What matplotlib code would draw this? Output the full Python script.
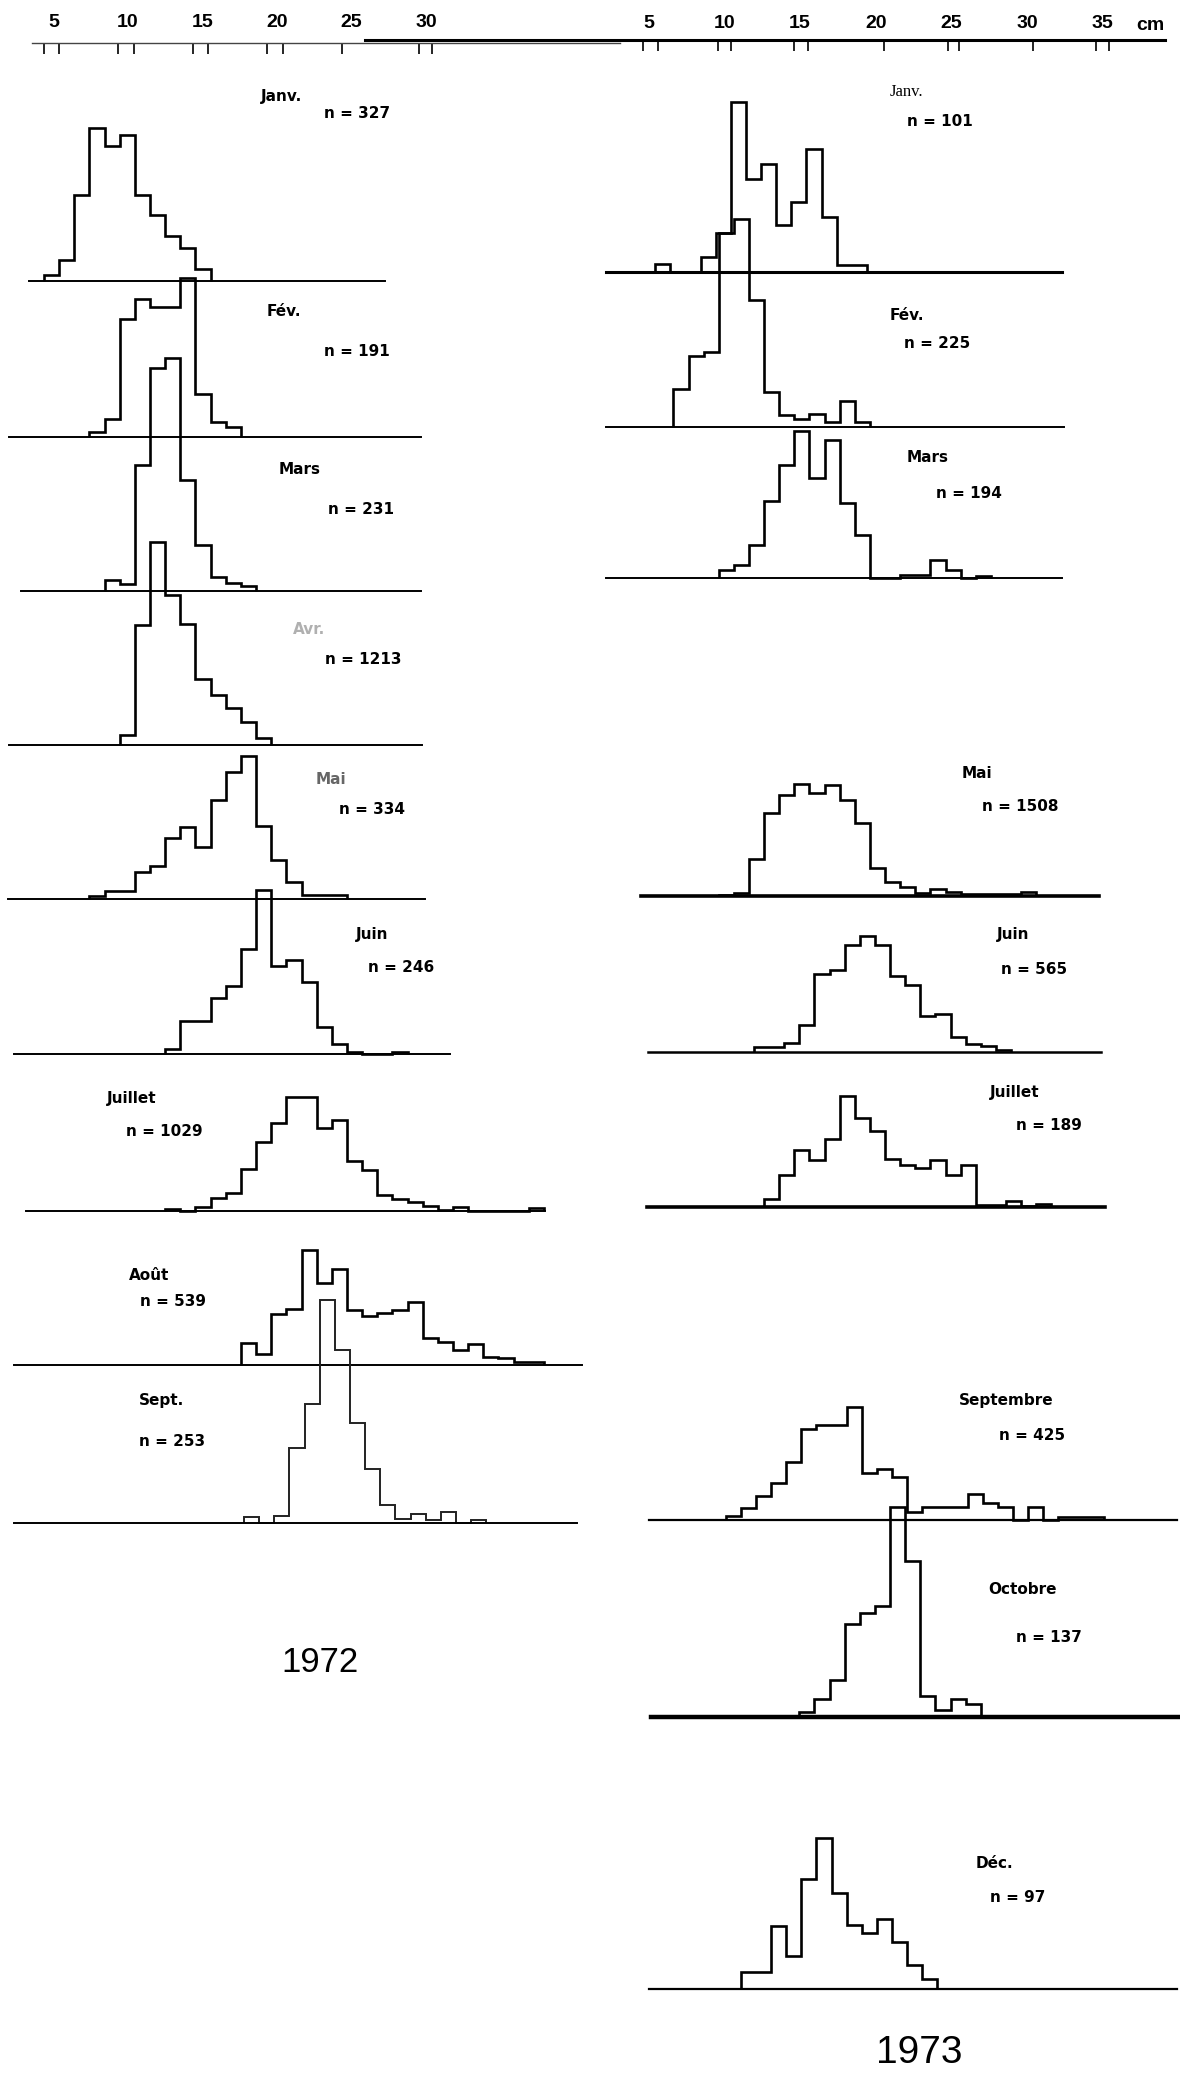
import matplotlib.pyplot as plt
import numpy as np

W, H = 1180, 2073

# ---- length-frequency data (1 cm classes), value = relative frequency
# 1972
jan72_start, jan72 = 5, [6, 21, 86, 153, 135, 146, 86, 66, 45, 33, 12]
feb72_start, feb72 = 8, [5, 18, 118, 138, 130, 130, 159, 43, 15, 10]
mar72_start, mar72 = 9, [11, 7, 126, 223, 233, 111, 46, 14, 8, 5]
apr72_start, apr72 = 10, [10, 120, 203, 150, 121, 66, 50, 37, 23, 7]
may72_start, may72 = 8, [3, 8, 8, 27, 33, 61, 72, 52, 99, 127, 143, 73, 39, 17, 4, 4, 4]
jun72_start, jun72 = 13, [5, 33, 33, 56, 68, 105, 164, 88, 94, 72, 27, 10, 2, 0, 0, 2]
jul72_start, jul72 = 13, [2, 0, 4, 13, 18, 42, 69, 88, 114, 114, 83, 91, 50, 41, 16,
                          12, 9, 5, 1, 4, 0, 0, 0, 0, 3]
aug72_start, aug72 = 18, [22, 11, 51, 56, 115, 82, 96, 55, 49, 52, 55, 63, 27, 23,
                          15, 21, 8, 7, 3, 3]
sep72_start, sep72 = 18, [6, 0, 7, 75, 119, 223, 173, 100, 54, 18, 4, 9, 3, 11, 0, 3]

# 1973
jan73_start, jan73 = 6, [8, 0, 0, 15, 39, 170, 93, 108, 47, 70, 123, 55, 7, 7]
feb73_start, feb73 = 7, [38, 71, 75, 194, 208, 127, 35, 12, 8, 13, 5, 26, 5]
mar73_start, mar73 = 10, [8, 13, 33, 77, 113, 147, 100, 138, 75, 43, 0, 0, 3, 3, 18, 8, 0, 2]
may73_start, may73 = 10, [1, 3, 37, 83, 101, 112, 103, 111, 96, 73, 28, 14, 9, 3, 7,
                          4, 2, 2, 2, 2, 4]
jun73_start, jun73 = 12, [5, 5, 9, 27, 78, 82, 107, 116, 107, 76, 67, 36, 38, 15, 8, 6, 2]
jul73_start, jul73 = 13, [8, 32, 57, 47, 68, 111, 89, 76, 48, 42, 39, 47, 32, 42, 2,
                          2, 6, 1, 3]
sep73_start, sep73 = 10, [4, 12, 24, 37, 58, 91, 95, 95, 113, 47, 51, 43, 8, 13, 13,
                          13, 26, 17, 13, 0, 13, 0, 3, 3, 3]
oct73_start, oct73 = 15, [5, 18, 37, 93, 104, 111, 210, 156, 21, 7, 18, 13]
dec73_start, dec73 = 11, [17, 17, 63, 33, 110, 151, 96, 64, 56, 70, 47, 24, 10]

months72 = ["Janv.", "Fév.", "Mars", "Avr.", "Mai", "Juin", "Juillet", "Août", "Sept."]
n72 = [327, 191, 231, 1213, 334, 246, 1029, 539, 253]
months73 = ["Janv.", "Fév.", "Mars", "Mai", "Juin", "Juillet", "Septembre", "Octobre", "Déc."]
n73 = [101, 225, 194, 1508, 565, 189, 425, 137, 97]

scale_ticks = [5, 10, 15, 20, 25, 30, 35]

# pixel mapping of the cm scale: x_px = off + k * cm
COLS = {"L": (-24.2, 15.15), "R": (575.1, 15.12)}
SCALE_L = (-21.0, 14.9)
SCALE_R = (573.3, 15.12)
AXH = 260

fig = plt.figure(figsize=(W / 100, H / 100), dpi=100)
fig.patch.set_facecolor("white")


def fx(x):
    return x / W


def fy(y):
    return 1 - y / H


def hist(start, freqs, col, x0, x1, base, blw=1.4, lw=1.9, color="black", dx=0):
    # dx: small horizontal shift of a pasted-up panel (pixels)
    off, k = COLS[col]
    off += dx
    ax = fig.add_axes([fx(x0), fy(base), (x1 - x0) / W, AXH / H])
    ax.set_xlim((x0 - off) / k, (x1 - off) / k)
    ax.set_ylim(0, AXH)
    edges = np.arange(len(freqs) + 1) + start - 0.5
    ax.stairs(freqs, edges, color=color, lw=lw, clip_on=False)
    ax.patch.set_alpha(0)
    for s in ["top", "left", "right"]:
        ax.spines[s].set_visible(False)
    ax.spines["bottom"].set_linewidth(blw)
    ax.set_xticks([])
    ax.set_yticks([])
    return ax


# left column, 1972
hist(jan72_start, jan72, "L", 29, 385, 281)
hist(feb72_start, feb72, "L", 9, 421, 437)
hist(mar72_start, mar72, "L", 21, 421, 591)
hist(apr72_start, apr72, "L", 9, 422, 745)
hist(may72_start, may72, "L", 8, 425, 899)
hist(jun72_start, jun72, "L", 14, 450, 1054)
hist(jul72_start, jul72, "L", 26, 545, 1211)
hist(aug72_start, aug72, "L", 14, 582, 1365)
hist(sep72_start, sep72, "L", 14, 577, 1523, lw=1.4, color="#222222", dx=3)

# right column, 1973
hist(jan73_start, jan73, "R", 606, 1062, 272, blw=2.2, dx=-3)
hist(feb73_start, feb73, "R", 606, 1064, 427)
hist(mar73_start, mar73, "R", 606, 1062, 578)
hist(may73_start, may73, "R", 641, 1099, 896, blw=2.6)
hist(jun73_start, jun73, "R", 648, 1101, 1052, blw=1.8, dx=5)
hist(jul73_start, jul73, "R", 647, 1105, 1207, blw=2.6)
hist(sep73_start, sep73, "R", 649, 1177, 1520, blw=1.6, dx=7)
hist(oct73_start, oct73, "R", 651, 1179, 1717, blw=3.2, dx=5)
hist(dec73_start, dec73, "R", 649, 1177, 1989, blw=1.6, dx=7)

# ---- top scales
tickfont = dict(family="Liberation Sans", weight="bold", size=14)

axl = fig.add_axes([fx(32), fy(43), (620 - 32) / W, 1 / H])
off, k = SCALE_L
axl.set_xlim((32 - off) / k, (620 - off) / k)
axl.set_xticks(scale_ticks[:6])
axl.set_xticklabels([str(v) for v in scale_ticks[:6]], fontdict=tickfont)
axl.set_xticks([4.35, 5.4, 9.3, 10.4, 14.35, 15.4, 19.35, 20.4, 24.35, 29.5, 30.4], minor=True)
axl.tick_params(which="major", length=0, labeltop=True, labelbottom=False, pad=8)
axl.tick_params(which="minor", length=8, width=1.2, direction="out", bottom=True, top=False)
axl.set_yticks([])
for s in ["top", "left", "right"]:
    axl.spines[s].set_visible(False)
axl.spines["bottom"].set_linewidth(1.0)
axl.spines["bottom"].set_color("#444444")
axl.patch.set_alpha(0)

axr = fig.add_axes([fx(365), fy(40), (1165 - 365) / W, 1 / H])
off, k = SCALE_R
axr.set_xlim((365 - off) / k, (1165 - off) / k)
axr.set_xticks(scale_ticks)
axr.set_xticklabels([str(v) for v in scale_ticks], fontdict=tickfont)
axr.set_xticks([4.6, 5.6, 9.55, 10.45, 14.6, 15.5, 20.55, 24.75, 25.5, 30.4, 34.6, 35.4],
               minor=True)
axr.tick_params(which="major", length=0, labeltop=True, labelbottom=False, pad=5)
axr.tick_params(which="minor", length=8, width=1.2, direction="out", bottom=True, top=False)
axr.set_yticks([])
for s in ["top", "left", "right"]:
    axr.spines[s].set_visible(False)
axr.spines["bottom"].set_linewidth(2.2)
axr.patch.set_alpha(0)
fig.text(fx(1150), fy(25), "cm", ha="center", va="center", **tickfont)

# ---- labels
mfont = dict(family="DejaVu Sans", weight="bold", size=11)
nfont = dict(family="DejaVu Sans", weight="bold", size=11)

m72_pos = [(261, 96), (267, 311), (279, 470), (293, 629), (316, 779),
           (356, 934), (107, 1098), (129, 1276), (139, 1401)]
n72_pos = [(324, 113), (324, 351), (328, 509), (325, 660), (339, 809),
           (368, 967), (126, 1131), (140, 1301), (139, 1441)]
m72_col = ["black", "black", "black", "#b0b0b0", "#666666",
           "black", "black", "black", "black"]
for name, n, (mx, my), (nx, ny), c in zip(months72, n72, m72_pos, n72_pos, m72_col):
    fig.text(fx(mx), fy(my), name, ha="left", va="center", color=c, **mfont)
    fig.text(fx(nx), fy(ny), f"n = {n}", ha="left", va="center", **nfont)

m73_pos = [(890, 92), (890, 315), (907, 458), (962, 774), (997, 934),
           (990, 1093), (959, 1401), (988, 1590), (976, 1863)]
n73_pos = [(907, 122), (904, 343), (936, 494), (982, 807), (1001, 970),
           (1016, 1125), (999, 1436), (1016, 1637), (990, 1897)]
for i, (name, n, (mx, my), (nx, ny)) in enumerate(zip(months73, n73, m73_pos, n73_pos)):
    if i == 0:
        fig.text(fx(mx), fy(my), name, ha="left", va="center",
                 family="Liberation Serif", size=12)
    else:
        fig.text(fx(mx), fy(my), name, ha="left", va="center", **mfont)
    fig.text(fx(nx), fy(ny), f"n = {n}", ha="left", va="center", **nfont)

fig.text(fx(320), fy(1662), "1972", ha="center", va="center",
         family="Liberation Sans", size=25)
fig.text(fx(919), fy(2053), "1973", ha="center", va="center",
         family="Liberation Sans", size=28)

fig.savefig("out.png", dpi=100, facecolor="white")
